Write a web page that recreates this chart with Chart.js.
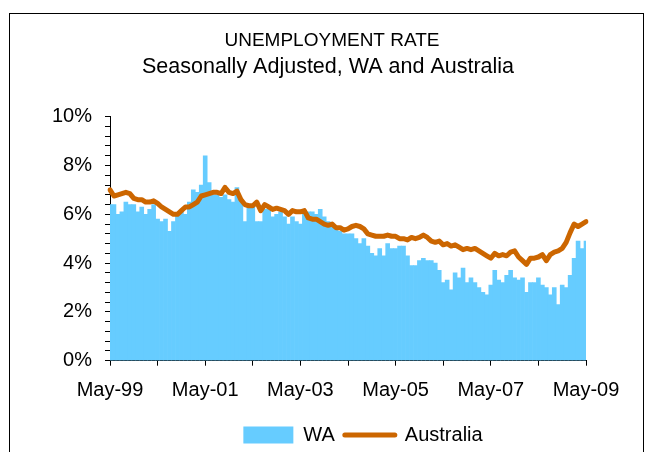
<!DOCTYPE html>
<html>
<head>
<meta charset="utf-8">
<title>Unemployment rate</title>
<script src="https://cdn.jsdelivr.net/npm/chart.js@4.4.0/dist/chart.umd.min.js"></script>
<style>
  html, body { margin: 0; padding: 0; background: #fff; }
  #wrap { position: relative; width: 649px; height: 452px; overflow: hidden; }
  #frame {
    position: absolute; left: 9px; top: 13px; width: 635px; height: 470px;
    box-sizing: border-box; border: 1px solid #000; pointer-events: none;
  }
  canvas { position: absolute; left: 0; top: 0; }
</style>
</head>
<body>
<div id="wrap">
  <canvas id="chart" width="649" height="452"></canvas>
  <div id="frame"></div>
</div>
<script>
// monthly, May-99 .. May-09
const startYear = 1999;
const startMonth = 4; // May
const monthCount = 121;
const monthNames = ['Jan','Feb','Mar','Apr','May','Jun','Jul','Aug','Sep','Oct','Nov','Dec'];

const tickLabels = ['May-99', 'May-01', 'May-03', 'May-05', 'May-07', 'May-09'];

// WA, % (bars)
const waRate = [
  6.4, 6.4, 6.0, 6.1, 6.5, 6.4, 6.4, 6.1,
  6.3, 6.0, 6.2, 6.4, 5.8, 5.7, 5.8, 5.3, 5.7, 6.0, 6.1, 6.0,
  6.5, 7.0, 6.9, 7.2, 8.4, 7.3, 6.8, 6.8, 6.7, 6.8, 6.6, 6.5,
  7.1, 6.6, 5.7, 6.3, 6.3, 5.7, 5.7, 6.2, 6.2, 5.9, 6.0, 6.1,
  5.9, 5.6, 5.9, 5.7, 5.6, 6.1, 6.1, 6.1, 6.0, 6.2, 5.9, 5.7,
  5.5, 5.5, 5.3, 5.2, 5.2, 5.2, 5.0, 4.8, 5.0, 4.7, 4.4, 4.3,
  4.6, 4.3, 4.8, 4.6, 4.6, 4.7, 4.7, 4.3, 3.9, 3.9, 4.1, 4.2,
  4.1, 4.1, 4.0, 3.7, 3.2, 3.3, 2.9, 3.6, 3.4, 3.8, 3.2, 3.4,
  3.2, 3.0, 2.8, 2.7, 3.1, 3.7, 3.3, 3.2, 3.5, 3.7, 3.4, 3.3,
  3.4, 2.8, 3.2, 3.2, 3.4, 3.1, 3.0, 2.7, 3.0, 2.3, 3.1, 3.0,
  3.5, 4.2, 4.9, 4.6, 4.9
];

// Australia, % (line)
const ausRate = [
  7.0, 6.75, 6.8, 6.85, 6.9, 6.85, 6.65, 6.6,
  6.6, 6.5, 6.5, 6.55, 6.45, 6.3, 6.2, 6.1, 6.0, 6.0, 6.15, 6.3,
  6.3, 6.4, 6.5, 6.75, 6.8, 6.85, 6.9, 6.9, 6.85, 7.1, 6.9, 6.85,
  6.95, 6.6, 6.4, 6.35, 6.35, 6.5, 6.15, 6.4, 6.3, 6.2, 6.25, 6.2,
  6.15, 6.0, 6.15, 6.1, 6.1, 6.15, 5.85, 5.8, 5.8, 5.7, 5.6, 5.55,
  5.6, 5.45, 5.45, 5.35, 5.4, 5.5, 5.55, 5.5, 5.4, 5.2, 5.15, 5.1,
  5.1, 5.1, 5.15, 5.1, 5.1, 5.0, 5.0, 4.95, 5.05, 5.0, 5.05, 5.15,
  5.05, 4.9, 4.85, 4.9, 4.75, 4.8, 4.7, 4.75, 4.65, 4.55, 4.6, 4.55,
  4.6, 4.5, 4.4, 4.3, 4.2, 4.4, 4.3, 4.35, 4.3, 4.45, 4.5, 4.25,
  4.1, 3.95, 4.2, 4.2, 4.25, 4.35, 4.1, 4.35, 4.45, 4.5, 4.6, 4.85,
  5.25, 5.6, 5.5, 5.6, 5.7
];

const months = [];
for (let i = 0; i < monthCount; i++) {
  const m = (startMonth + i) % 12;
  const y = startYear + Math.floor((startMonth + i) / 12);
  months.push(monthNames[m] + '-' + String(y % 100).padStart(2, '0'));
}

const waColor = '#66CCFF';
const ausColor = '#CC6600';
const fontFamily = "'Liberation Sans', Arial, sans-serif";
const titleText = 'UNEMPLOYMENT RATE';
const subtitleText = 'Seasonally Adjusted, WA and Australia';

Chart.defaults.font.family = fontFamily;
Chart.defaults.color = '#000';

// full-width boxes are centred on 0..586; move title, subtitle and legend
// sideways to where the original has them
const boxShift = {
  id: 'boxShift',
  afterLayout(chart) {
    chart.boxes.forEach(b => {
      let dx = 0, dy = 0;
      if (b === chart.legend) { dx = 70; dy = 3; }
      else if (b.options && b.options.text === titleText) dx = 39;
      else if (b.options && b.options.text === subtitleText) dx = 35;
      if (dx || dy) {
        b.left += dx; b.right += dx;
        b.top += dy; b.bottom += dy;
      }
    });
  }
};

const ctx = document.getElementById('chart').getContext('2d');
new Chart(ctx, {
  type: 'bar',
  data: {
    labels: months,
    datasets: [
      {
        label: 'WA',
        data: waRate,
        backgroundColor: waColor,
        borderWidth: 0,
        barPercentage: 1,
        categoryPercentage: 1,
        order: 2
      },
      {
        type: 'line',
        label: 'Australia',
        data: ausRate,
        borderColor: ausColor,
        backgroundColor: ausColor,
        borderWidth: 5,
        borderJoinStyle: 'round',
        borderCapStyle: 'round',
        pointRadius: 0,
        tension: 0,
        fill: false,
        order: 1
      }
    ]
  },
  options: {
    responsive: false,
    animation: false,
    devicePixelRatio: 1,
    layout: { padding: { top: 0, left: 0, right: 63, bottom: 0 } },
    plugins: {
      tooltip: { enabled: false },
      title: {
        display: true,
        text: titleText,
        color: '#000',
        font: { size: 19, weight: 'normal', lineHeight: 1.2 },
        padding: { top: 29, bottom: 0 }
      },
      subtitle: {
        display: true,
        text: subtitleText,
        color: '#000',
        font: { size: 21.5, weight: 'normal', lineHeight: 1.2 },
        padding: { top: 2, bottom: 37.1 }
      },
      legend: {
        position: 'bottom',
        labels: {
          usePointStyle: true,
          pointStyleWidth: 50,
          boxHeight: 17,
          padding: 10,
          color: '#000',
          font: { size: 20 },
          sort: (a, b) => a.datasetIndex - b.datasetIndex,
          generateLabels(chart) {
            const items = Chart.defaults.plugins.legend.labels.generateLabels(chart);
            items.forEach(it => {
              if (it.datasetIndex === 0) {
                it.pointStyle = 'rect';
                it.fillStyle = waColor;
                it.lineWidth = 0;
              } else {
                it.pointStyle = 'line';
                it.strokeStyle = ausColor;
                it.lineWidth = 5;
                it.lineCap = 'round';
              }
            });
            return items;
          }
        }
      }
    },
    scales: {
      x: {
        offset: false,
        grid: {
          offset: false,
          drawOnChartArea: false,
          drawTicks: true,
          tickLength: 5,
          color: c => (c.index % 12 === 0 ? '#000' : 'rgba(0,0,0,0)')
        },
        border: { display: true, color: '#000', width: 1 },
        ticks: {
          autoSkip: false,
          maxRotation: 0,
          minRotation: 0,
          padding: 13,
          font: { size: 20 },
          color: '#000',
          callback: (value, index) => (tickLabels.includes(months[index]) ? months[index] : '')
        },
        afterFit: scale => { scale.height = 51.3; }
      },
      y: {
        min: 0,
        max: 10,
        grid: {
          drawOnChartArea: false,
          drawTicks: true,
          tickLength: 5,
          color: '#000'
        },
        border: { display: true, color: '#000', width: 1 },
        ticks: {
          stepSize: 0.4,
          maxTicksLimit: 100,
          autoSkip: false,
          padding: 13,
          font: { size: 20 },
          color: '#000',
          callback: v => {
            const r = Math.round(v);
            return Math.abs(v - r) < 1e-6 && r % 2 === 0 ? r + '%' : '';
          }
        },
        afterFit: scale => { scale.width = 110; }
      }
    }
  },
  plugins: [boxShift]
});
</script>
</body>
</html>
